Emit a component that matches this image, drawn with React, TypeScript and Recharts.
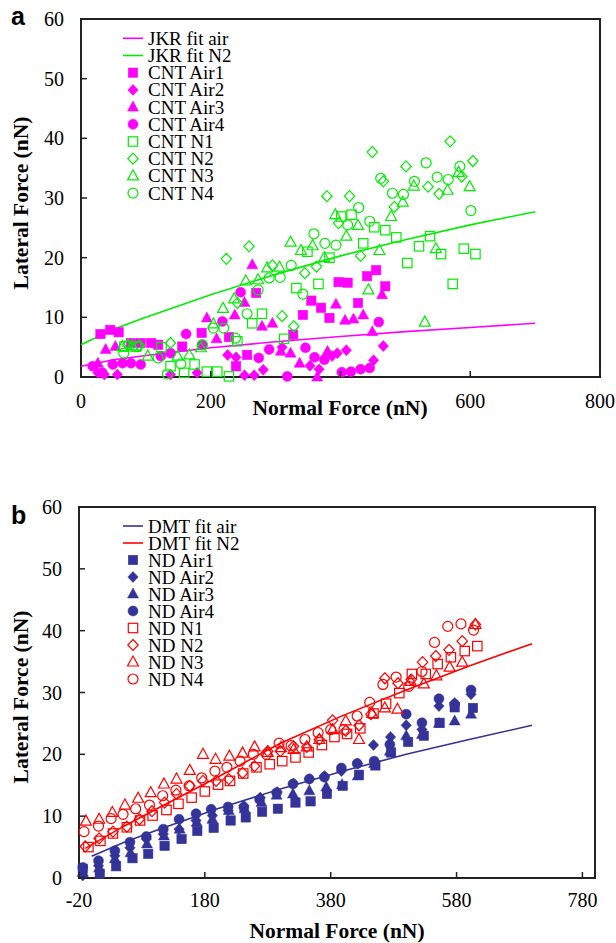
import React from "react";
import { ScatterChart, Scatter, XAxis, YAxis, ReferenceArea } from "recharts";

type Pt = { x: number; y: number };
type Kind = "square" | "diamond" | "triangle" | "circle";

const pts = (a: number[][]): Pt[] => a.map(([x, y]) => ({ x, y }));

// ---- panel a: CNT ----
const jkrAirFit = pts([[0, 1.8], [50, 2.9], [100, 3.6], [200, 4.9], [300, 5.9], [400, 6.8], [500, 7.6], [600, 8.3], [700, 9.0]]);
const jkrN2Fit = pts([[0, 5.4], [50, 8.0], [100, 10.0], [200, 13.8], [300, 17.2], [400, 20.3], [500, 23.0], [600, 25.5], [700, 27.7]]);

const cntAir1 = pts([[30, 7.2], [45, 7.9], [58, 7.5], [77, 5.7], [92, 5.7], [108, 5.7], [119, 5.4], [156, 5.1], [186, 7.4], [228, 6.7], [239, 1.8], [256, 3.7], [270, 14.1], [327, 7.1], [342, 10.4], [355, 12.8], [370, 11.6], [383, 9.9], [397, 15.9], [411, 15.8], [427, 12.4], [441, 16.9], [455, 17.9], [469, 15.2]]);
const cntAir2 = pts([[26, 0.7], [36, 0.4], [56, 0.4], [138, 0.4], [179, 0.7], [226, 3.7], [239, 3.3], [252, 0.3], [267, 0.3], [281, 1.2], [310, 5.0], [353, 1.9], [367, 1.3], [387, 3.5], [395, 4.0], [409, 4.5], [451, 2.8], [466, 5.2]]);
const cntAir3 = pts([[26, 2.3], [38, 4.6], [53, 5.1], [194, 9.9], [209, 6.4], [237, 10.4], [252, 12.5], [264, 18.8], [279, 8.5], [295, 9.0], [308, 4.3], [323, 4.0], [337, 2.3], [364, 0], [380, 4.3], [393, 12.2], [407, 9.5], [420, 9.7], [435, 10.4], [449, 7.6], [464, 13.8]]);
const cntAir4 = pts([[18, 1.8], [33, 0.7], [49, 2.1], [64, 2.3], [77, 2.3], [92, 2.1], [123, 3.5], [138, 4.0], [162, 7.2], [187, 5.4], [218, 9.3], [246, 14.2], [274, 3.2], [290, 4.6], [318, 0.1], [346, 4.9], [360, 3.3], [375, 2.9], [402, 0.8], [416, 0.9], [431, 1.3], [445, 1.5], [459, 9.2]]);
const cntN1 = pts([[67, 5.1], [85, 5.1], [124, 5.0], [138, 1.8], [159, 0.7], [175, 2.1], [194, 0.9], [210, 0.9], [228, 0.1], [241, 6.0], [264, 9.0], [279, 10.6], [313, 6.4], [332, 14.9], [349, 21.0], [366, 15.6], [383, 20.0], [401, 26.9], [417, 27.2], [435, 22.4], [452, 25.1], [469, 24.6], [486, 23.4], [503, 19.1], [521, 21.9], [538, 23.6], [555, 20.6], [573, 15.6], [590, 21.5], [608, 20.6]]);
const cntN2 = pts([[72, 5.4], [90, 5.3], [138, 5.7], [224, 19.8], [241, 12.4], [259, 21.9], [295, 18.7], [310, 10.2], [328, 8.5], [345, 17.4], [363, 18.5], [379, 30.3], [397, 25.8], [414, 30.3], [431, 20.3], [449, 37.7], [466, 32.8], [483, 28.5], [501, 35.3], [535, 31.9], [552, 30.7], [569, 39.5], [587, 33.6], [604, 36.2]]);
const cntN3 = pts([[64, 5.1], [79, 5.2], [103, 3.5], [149, 3.5], [167, 3.7], [185, 4.9], [204, 8.9], [219, 11.5], [236, 13.1], [254, 16.1], [273, 16.3], [287, 18.3], [306, 18.4], [323, 22.6], [339, 21.2], [357, 22.0], [375, 20.0], [392, 27.2], [409, 23.6], [427, 25.4], [443, 14.6], [460, 21.2], [478, 26.9], [496, 29.3], [513, 32.0], [530, 9.2], [547, 21.5], [565, 31.3], [582, 34.3], [599, 31.9]]);
const cntN4 = pts([[66, 4.0], [87, 5.1], [119, 3.2], [133, 0.5], [154, 2.2], [187, 5.4], [204, 8.2], [220, 8.2], [238, 6.5], [256, 10.6], [273, 14.6], [290, 16.6], [307, 16.7], [324, 18.7], [342, 13.9], [359, 24.0], [376, 22.4], [393, 22.1], [411, 25.5], [428, 28.4], [445, 26.1], [462, 33.3], [480, 30.8], [497, 30.6], [514, 32.8], [532, 35.9], [549, 33.5], [566, 33.1], [584, 35.3], [601, 27.9]]);

// ---- panel b: ND ----
const dmtAirFit = pts([[0, 3.5], [50, 5.7], [100, 7.6], [200, 11.2], [300, 14.4], [400, 17.3], [500, 20.0], [600, 22.4], [700, 24.7]]);
const dmtN2Fit = pts([[-10, 4.8], [50, 8.3], [100, 11.0], [200, 16.3], [300, 21.8], [400, 26.3], [500, 30.4], [600, 34.3], [700, 37.9]]);

const ndAir1 = pts([[-14, 1.5], [13, 0.7], [39, 1.9], [65, 3.2], [90, 3.9], [116, 5.2], [143, 6.3], [168, 7.6], [194, 8.1], [221, 9.3], [245, 9.8], [271, 10.7], [296, 11.2], [324, 12.2], [348, 12.4], [374, 13.6], [399, 14.9], [425, 16.7], [451, 18.2], [476, 20.3], [503, 22.0], [528, 23.0], [553, 25.1], [577, 27.6], [606, 27.5]]);
const ndAir2 = pts([[-14, 0.4], [11, 2.0], [37, 3.6], [61, 4.9], [87, 6.3], [114, 7.1], [139, 7.9], [166, 9.3], [192, 10.1], [217, 10.9], [242, 11.7], [268, 13.0], [295, 13.9], [321, 15.3], [346, 16.0], [370, 16.5], [397, 17.3], [423, 18.5], [448, 21.5], [475, 22.8], [500, 24.7], [525, 24.0], [552, 27.8], [577, 28.3], [603, 29.7]]);
const ndAir3 = pts([[-14, 0.9], [12, 1.6], [37, 3.1], [62, 4.1], [88, 5.5], [115, 6.8], [140, 7.9], [167, 9.0], [192, 9.5], [218, 10.9], [243, 11.2], [270, 12.2], [294, 13.4], [320, 13.6], [346, 14.1], [373, 14.7], [398, 15.1], [423, 16.5], [449, 18.5], [474, 20.5], [500, 23.0], [525, 23.2], [552, 25.0], [577, 25.4], [603, 26.5]]);
const ndAir4 = pts([[-14, 1.7], [11, 2.8], [37, 4.4], [61, 5.8], [87, 6.7], [114, 7.9], [139, 9.5], [166, 10.4], [190, 11.1], [217, 11.5], [242, 11.4], [267, 12.7], [294, 13.8], [320, 15.2], [346, 16.0], [370, 16.3], [397, 17.8], [422, 18.5], [449, 18.9], [474, 21.6], [500, 26.5], [525, 25.1], [552, 29.0], [577, 28.1], [603, 30.4]]);
const ndN1 = pts([[-5, 5.0], [14, 6.0], [34, 7.2], [56, 8.2], [77, 9.3], [97, 10.1], [119, 11.0], [138, 12.0], [159, 13.0], [180, 14.0], [201, 15.1], [220, 15.7], [241, 16.9], [262, 17.9], [283, 18.4], [303, 18.9], [324, 19.5], [345, 20.3], [366, 21.5], [386, 22.8], [406, 23.3], [427, 24.2], [448, 26.6], [468, 28.2], [489, 29.9], [509, 33.0], [531, 33.0], [550, 34.6], [571, 35.7], [593, 36.7], [613, 37.5]]);
const ndN2 = pts([[-10, 5.1], [12, 6.4], [34, 7.5], [56, 8.3], [76, 9.5], [96, 10.8], [116, 12.2], [135, 13.6], [156, 14.9], [177, 15.7], [198, 15.7], [218, 16.0], [240, 17.0], [259, 18.1], [280, 20.5], [300, 20.5], [321, 21.3], [342, 21.2], [362, 22.4], [383, 25.5], [404, 23.8], [425, 24.7], [444, 26.5], [466, 32.3], [487, 31.5], [508, 32.1], [526, 34.9], [547, 35.9], [568, 36.9], [589, 38.3], [610, 41.0]]);
const ndN3 = pts([[-9, 9.2], [12, 9.5], [33, 10.6], [53, 11.8], [74, 12.9], [94, 13.8], [115, 15.2], [135, 16.0], [156, 17.4], [177, 20.0], [197, 19.2], [219, 19.7], [240, 20.2], [259, 21.2], [280, 20.3], [301, 21.1], [321, 20.8], [342, 21.2], [362, 22.4], [383, 24.0], [404, 25.4], [425, 22.4], [446, 26.6], [466, 27.5], [486, 27.3], [507, 31.8], [528, 31.4], [548, 32.7], [569, 34.1], [589, 34.9], [610, 41.0]]);
const ndN4 = pts([[-12, 7.5], [11, 8.4], [31, 9.6], [50, 10.3], [70, 11.2], [92, 11.8], [113, 13.3], [134, 14.2], [155, 14.9], [175, 16.2], [196, 17.3], [215, 17.9], [236, 18.9], [257, 20.0], [278, 20.0], [298, 21.8], [317, 21.4], [339, 22.4], [360, 23.5], [380, 24.0], [401, 24.0], [422, 26.2], [442, 28.4], [463, 31.3], [484, 32.5], [504, 31.0], [525, 33.4], [545, 38.1], [566, 40.7], [587, 41.1], [607, 40.1]]);

const xTicksA = [0, 200, 400, 600, 800];
const xTicksB = [-20, 180, 380, 580, 780];
const yTicks = [0, 10, 20, 30, 40, 50, 60];

const MAGENTA = "#FF00FF";
const GREEN = "#00EE00";
const BLUE = "#333399";
const RED = "#FF0000";
const AXIS = "#222";
const SERIF = "'Liberation Serif', 'Times New Roman', serif";

interface SeriesDef {
  name: string;
  data: Pt[];
  kind: Kind;
  filled: boolean;
  color: string;
}

const seriesA: SeriesDef[] = [
  { name: "CNT Air1", data: cntAir1, kind: "square", filled: true, color: MAGENTA },
  { name: "CNT Air2", data: cntAir2, kind: "diamond", filled: true, color: MAGENTA },
  { name: "CNT Air3", data: cntAir3, kind: "triangle", filled: true, color: MAGENTA },
  { name: "CNT Air4", data: cntAir4, kind: "circle", filled: true, color: MAGENTA },
  { name: "CNT N1", data: cntN1, kind: "square", filled: false, color: GREEN },
  { name: "CNT N2", data: cntN2, kind: "diamond", filled: false, color: GREEN },
  { name: "CNT N3", data: cntN3, kind: "triangle", filled: false, color: GREEN },
  { name: "CNT N4", data: cntN4, kind: "circle", filled: false, color: GREEN },
];

const seriesB: SeriesDef[] = [
  { name: "ND Air1", data: ndAir1, kind: "square", filled: true, color: BLUE },
  { name: "ND Air2", data: ndAir2, kind: "diamond", filled: true, color: BLUE },
  { name: "ND Air3", data: ndAir3, kind: "triangle", filled: true, color: BLUE },
  { name: "ND Air4", data: ndAir4, kind: "circle", filled: true, color: BLUE },
  { name: "ND N1", data: ndN1, kind: "square", filled: false, color: RED },
  { name: "ND N2", data: ndN2, kind: "diamond", filled: false, color: RED },
  { name: "ND N3", data: ndN3, kind: "triangle", filled: false, color: RED },
  { name: "ND N4", data: ndN4, kind: "circle", filled: false, color: RED },
];

const marker = (kind: Kind, filled: boolean, color: string, cx: number, cy: number) => {
  const common = {
    fill: filled ? color : "none",
    stroke: color,
    strokeWidth: filled ? 0.5 : 1.2,
  };
  switch (kind) {
    case "square":
      return <rect x={cx - 4.7} y={cy - 4.7} width={9.4} height={9.4} {...common} />;
    case "diamond":
      return (
        <polygon
          points={`${cx},${cy - 5.5} ${cx + 5.2},${cy} ${cx},${cy + 5.5} ${cx - 5.2},${cy}`}
          {...common}
        />
      );
    case "triangle":
      return (
        <polygon
          points={`${cx},${cy - 6} ${cx + 5.5},${cy + 4} ${cx - 5.5},${cy + 4}`}
          {...common}
        />
      );
    default:
      return <circle cx={cx} cy={cy} r={5} {...common} />;
  }
};

const YTick = (props: any) => {
  const { x, y, payload } = props;
  return (
    <g>
      <line x1={x} x2={x + 6} y1={y} y2={y} stroke={AXIS} strokeWidth={1.5} />
      <text x={x - 17} y={y + 7} textAnchor="end" fontSize={20} fontFamily={SERIF} fill="#000">
        {payload.value}
      </text>
    </g>
  );
};

// the axis title sits over some tick labels in the original, those are left out
const makeXTick = (dy: number, hidden: number[]) => (props: any) => {
  const { x, y, payload } = props;
  return (
    <g>
      <line x1={x} x2={x} y1={y} y2={y - 6} stroke={AXIS} strokeWidth={1.5} />
      {!hidden.includes(payload.value) && (
        <text x={x} y={y + dy} textAnchor="middle" fontSize={20} fontFamily={SERIF} fill="#000">
          {payload.value}
        </text>
      )}
    </g>
  );
};

interface PanelProps {
  top: number;
  height: number;
  margin: { top: number; right: number; bottom: number; left: number };
  yWidth: number;
  xDomain: [number, number];
  xTicks: number[];
  hiddenX: number[];
  tickDy: number;
  fits: { data: Pt[]; color: string }[];
  series: SeriesDef[];
}

const Panel = ({ top, height, margin, yWidth, xDomain, xTicks, hiddenX, tickDy, fits, series }: PanelProps) => (
  <div style={{ position: "absolute", left: 0, top }}>
    <ScatterChart width={616} height={height} margin={margin}>
      <XAxis
        type="number"
        dataKey="x"
        domain={xDomain}
        ticks={xTicks}
        axisLine={false}
        tickLine={false}
        tickSize={0}
        tickMargin={0}
        height={30}
        tick={makeXTick(tickDy, hiddenX)}
        interval={0}
      />
      <YAxis
        type="number"
        dataKey="y"
        domain={[0, 60]}
        ticks={yTicks}
        axisLine={false}
        tickLine={false}
        tickSize={0}
        tickMargin={0}
        width={yWidth}
        tick={YTick}
        interval={0}
      />
      {fits.map((f, i) => (
        <Scatter
          key={"fit" + i}
          data={f.data}
          line={{ stroke: f.color, strokeWidth: 1.6 }}
          shape={() => <g />}
          isAnimationActive={false}
        />
      ))}
      {series.map((s) => (
        <Scatter
          key={s.name}
          name={s.name}
          data={s.data}
          shape={(p: any) => marker(s.kind, s.filled, s.color, p.cx, p.cy)}
          isAnimationActive={false}
        />
      ))}
      <ReferenceArea
        x1={xDomain[0]}
        x2={xDomain[1]}
        y1={0}
        y2={60}
        fill="none"
        fillOpacity={0}
        stroke={AXIS}
        strokeWidth={2}
        strokeOpacity={1}
      />
    </ScatterChart>
  </div>
);

const Legend = ({ top, step, x, lines, series }: { top: number; step: number; x: number; lines: { name: string; color: string }[]; series: SeriesDef[] }) => (
  <g>
    {lines.map((l, i) => (
      <g key={l.name}>
        <line x1={x - 10} x2={x + 10} y1={top + i * step} y2={top + i * step} stroke={l.color} strokeWidth={1.6} />
        <text x={x + 15} y={top + i * step + 6.5} fontSize={19} fontFamily={SERIF} fill="#000">
          {l.name}
        </text>
      </g>
    ))}
    {series.map((s, j) => {
      const cy = top + (j + lines.length) * step;
      return (
        <g key={s.name}>
          {marker(s.kind, s.filled, s.color, x, cy)}
          <text x={x + 15} y={cy + 6.5} fontSize={19} fontFamily={SERIF} fill="#000">
            {s.name}
          </text>
        </g>
      );
    })}
  </g>
);

const titleStyle = { fontFamily: SERIF, fontWeight: 700, fontSize: 21.5, fill: "#000" } as const;

export default function App() {
  return (
    <div style={{ position: "absolute", left: 0, top: 0, width: 616, height: 943, background: "#fff" }}>
      <Panel
        top={0}
        height={420}
        margin={{ top: 19, right: 16, bottom: 13, left: 0 }}
        yWidth={81}
        xDomain={[0, 800]}
        xTicks={xTicksA}
        hiddenX={[400]}
        tickDy={31}
        fits={[
          { data: jkrAirFit, color: MAGENTA },
          { data: jkrN2Fit, color: GREEN },
        ]}
        series={seriesA}
      />
      <Panel
        top={470}
        height={473}
        margin={{ top: 37, right: 21, bottom: 35, left: 0 }}
        yWidth={79}
        xDomain={[-20, 800]}
        xTicks={xTicksB}
        hiddenX={[]}
        tickDy={29}
        fits={[
          { data: dmtAirFit, color: BLUE },
          { data: dmtN2Fit, color: RED },
        ]}
        series={seriesB}
      />
      <svg
        width={616}
        height={943}
        style={{ position: "absolute", left: 0, top: 0, pointerEvents: "none" }}
      >
        <text x={11} y={25} fontFamily="'Liberation Sans', Arial, sans-serif" fontWeight={700} fontSize={25}>
          a
        </text>
        <text x={11} y={524} fontFamily="'Liberation Sans', Arial, sans-serif" fontWeight={700} fontSize={25}>
          b
        </text>
        <text x={340} y={415} textAnchor="middle" {...titleStyle}>
          Normal Force (nN)
        </text>
        <text x={337} y={938} textAnchor="middle" {...titleStyle}>
          Normal Force (nN)
        </text>
        <text transform="translate(28,203) rotate(-90)" textAnchor="middle" {...titleStyle}>
          Lateral Force (nN)
        </text>
        <text transform="translate(28,697) rotate(-90)" textAnchor="middle" {...titleStyle}>
          Lateral Force (nN)
        </text>
        <Legend
          top={38.3}
          step={17.2}
          x={133}
          lines={[
            { name: "JKR fit air", color: MAGENTA },
            { name: "JKR fit N2", color: GREEN },
          ]}
          series={seriesA}
        />
        <Legend
          top={526}
          step={17}
          x={133}
          lines={[
            { name: "DMT fit air", color: BLUE },
            { name: "DMT fit N2", color: RED },
          ]}
          series={seriesB}
        />
      </svg>
    </div>
  );
}
